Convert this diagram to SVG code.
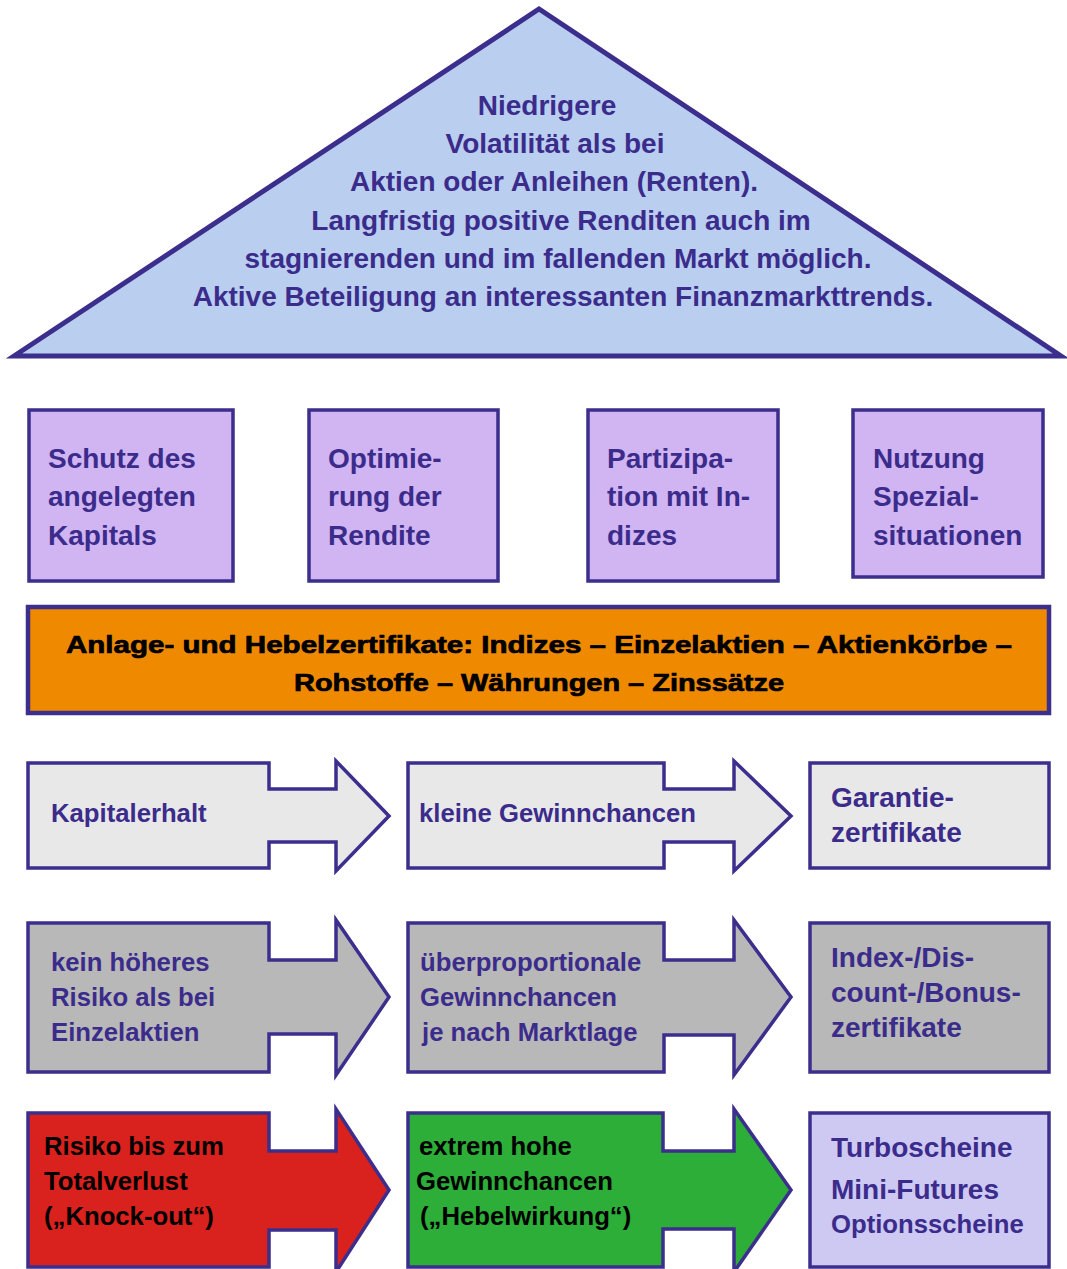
<svg xmlns="http://www.w3.org/2000/svg" width="1067" height="1269" viewBox="0 0 1067 1269">
<style>
text{font-family:"Liberation Sans",Arial,sans-serif;font-weight:bold}
.p{fill:#3b2c8c}
.k{fill:#000}
.s28{font-size:28px}
.s26{font-size:25.7px}
.s24{font-size:24px}
.heavy{stroke:#000;stroke-width:0.7}
.ol{stroke:#3b2e8c;stroke-width:3.5;stroke-linejoin:miter}
</style>
<rect width="1067" height="1269" fill="#ffffff"/>
<g id="roof">
<polygon class="ol" points="14,356 539,9 1061,356" fill="#bacff0" style="stroke-width:5"/>
<g class="p s28" text-anchor="middle">
<text x="547" y="115">Niedrigere</text>
<text x="555" y="153">Volatilität als bei</text>
<text x="554" y="191">Aktien oder Anleihen (Renten).</text>
<text x="561" y="230">Langfristig positive Renditen auch im</text>
<text x="558" y="268">stagnierenden und im fallenden Markt möglich.</text>
<text x="563" y="306">Aktive Beteiligung an interessanten Finanzmarkttrends.</text>
</g>
</g>
<g id="pillar1">
<rect class="ol" x="29" y="410" width="204" height="171" fill="#d0b5f2"/>
<g class="p s28"><text x="48" y="468">Schutz des</text><text x="48" y="506">angelegten</text><text x="48" y="545">Kapitals</text></g>
</g>
<g id="pillar2">
<rect class="ol" x="309" y="410" width="189" height="171" fill="#d0b5f2"/>
<g class="p s28"><text x="328" y="468">Optimie-</text><text x="328" y="506">rung der</text><text x="328" y="545">Rendite</text></g>
</g>
<g id="pillar3">
<rect class="ol" x="588" y="410" width="190" height="171" fill="#d0b5f2"/>
<g class="p s28"><text x="607" y="468">Partizipa-</text><text x="607" y="506">tion mit In-</text><text x="607" y="545">dizes</text></g>
</g>
<g id="pillar4">
<rect class="ol" x="853" y="410" width="190" height="167" fill="#d0b5f2"/>
<g class="p s28"><text x="873" y="468">Nutzung</text><text x="873" y="506">Spezial-</text><text x="873" y="545">situationen</text></g>
</g>
<g id="foundation">
<rect class="ol" x="28" y="607" width="1021" height="106" fill="#ef8a00" style="stroke-width:4.5"/>
<g class="k s24 heavy">
<text x="66" y="653" textLength="946" lengthAdjust="spacingAndGlyphs">Anlage- und Hebelzertifikate: Indizes – Einzelaktien – Aktienkörbe –</text>
<text x="294" y="691" textLength="490" lengthAdjust="spacingAndGlyphs">Rohstoffe – Währungen – Zinssätze</text>
</g>
</g>
<g id="connectors"></g>
<g id="row1-risk">
<polygon class="ol" fill="#e8e8e8" points="28,763 269,763 269,789 336,789 336,761 389,816 336,871 336,842 269,842 269,868 28,868"/>
<text class="p s26" x="51" y="822">Kapitalerhalt</text>
</g>
<g id="row1-chance">
<polygon class="ol" fill="#e8e8e8" points="408,763 664,763 664,789 734,789 734,761 791,816 734,871 734,842 664,842 664,868 408,868"/>
<text class="p s26" x="419" y="822">kleine Gewinnchancen</text>
</g>
<g id="row1-product">
<rect class="ol" x="810" y="763" width="239" height="105" fill="#e8e8e8"/>
<g class="p s28"><text x="831" y="807">Garantie-</text><text x="831" y="842">zertifikate</text></g>
</g>
<g id="row2-risk">
<polygon class="ol" fill="#b8b8b8" points="28,923 269,923 269,960 336,960 336,920 389,997 336,1075 336,1034 269,1034 269,1072 28,1072"/>
<g class="p s26"><text x="51" y="971">kein höheres</text><text x="51" y="1006">Risiko als bei</text><text x="51" y="1041">Einzelaktien</text></g>
</g>
<g id="row2-chance">
<polygon class="ol" fill="#b8b8b8" points="408,923 664,923 664,960 734,960 734,920 791,997 734,1075 734,1035 664,1035 664,1072 408,1072"/>
<g class="p s26"><text x="420" y="971">überproportionale</text><text x="420" y="1006">Gewinnchancen</text><text x="422" y="1041">je nach Marktlage</text></g>
</g>
<g id="row2-product">
<rect class="ol" x="810" y="923" width="239" height="149" fill="#b8b8b8"/>
<g class="p s28"><text x="831" y="967">Index-/Dis-</text><text x="831" y="1002">count-/Bonus-</text><text x="831" y="1037">zertifikate</text></g>
</g>
<g id="row3-risk">
<polygon class="ol" fill="#d9211e" points="28,1113 269,1113 269,1151 336,1151 336,1109 389,1190 336,1272 336,1230 269,1230 269,1267 28,1267"/>
<g class="k s26"><text x="44" y="1155">Risiko bis zum</text><text x="44" y="1190">Totalverlust</text><text x="44" y="1225">(„Knock-out“)</text></g>
</g>
<g id="row3-chance">
<polygon class="ol" fill="#2cae38" points="408,1113 663,1113 663,1151 734,1151 734,1109 791,1190 734,1272 734,1229 663,1229 663,1267 408,1267"/>
<g class="k s26"><text x="419" y="1155">extrem hohe</text><text x="416" y="1190">Gewinnchancen</text><text x="420" y="1225">(„Hebelwirkung“)</text></g>
</g>
<g id="row3-product">
<rect class="ol" x="810" y="1113" width="239" height="154" fill="#cdc9f3"/>
<g class="p"><text class="s28" x="831" y="1157">Turboscheine</text><text class="s28" x="831" y="1199">Mini-Futures</text><text class="s26" x="831" y="1233">Optionsscheine</text></g>
</g>
</svg>
